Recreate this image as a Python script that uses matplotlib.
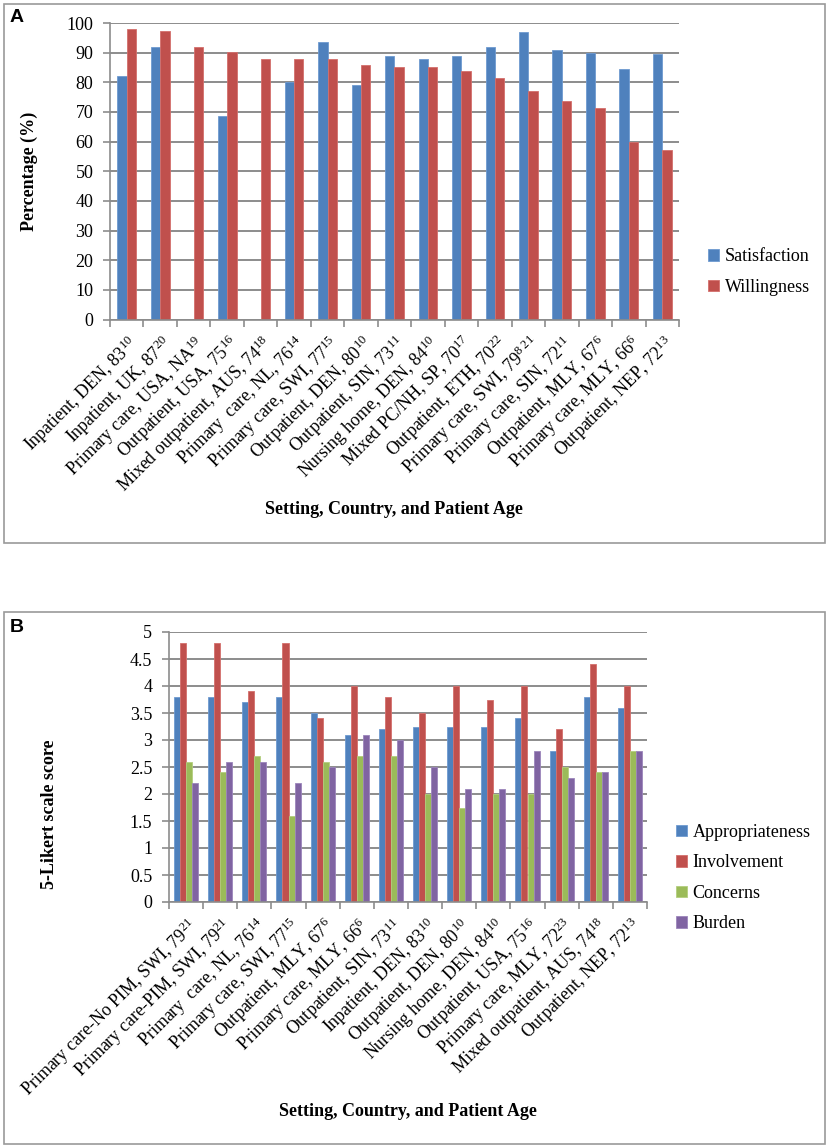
import numpy as np
import matplotlib
matplotlib.use("Agg")
import matplotlib.pyplot as plt
from matplotlib.patches import Rectangle

plt.rcParams['font.family'] = ['Liberation Serif', 'DejaVu Serif']
plt.rcParams['mathtext.fontset'] = 'custom'
plt.rcParams['mathtext.rm'] = 'Liberation Serif'
plt.rcParams['mathtext.it'] = 'Liberation Serif:italic'

# ---- panel A data ----
labels_a = ["Inpatient, DEN, 83$^{\\mathrm{10}}$", "Inpatient, UK, 87$^{\\mathrm{20}}$",
            "Primary care, USA, NA$^{\\mathrm{19}}$", "Outpatient, USA, 75$^{\\mathrm{16}}$",
            "Mixed outpatient, AUS, 74$^{\\mathrm{18}}$", "Primary  care, NL, 76$^{\\mathrm{14}}$",
            "Primary care, SWI, 77$^{\\mathrm{15}}$", "Outpatient, DEN, 80$^{\\mathrm{10}}$",
            "Outpatient, SIN, 73$^{\\mathrm{11}}$", "Nursing home, DEN, 84$^{\\mathrm{10}}$",
            "Mixed PC/NH, SP, 70$^{\\mathrm{17}}$", "Outpatient, ETH, 70$^{\\mathrm{22}}$",
            "Primary care, SWI, 79$^{\\mathrm{8\\ 21}}$", "Primary care, SIN, 72$^{\\mathrm{11}}$",
            "Outpatient, MLY, 67$^{\\mathrm{6}}$", "Primary care, MLY, 66$^{\\mathrm{6}}$",
            "Outpatient, NEP, 72$^{\\mathrm{13}}$"]
satisfaction = [82, 92, np.nan, 68.6, np.nan, 80, 93.7, 79, 89, 88, 89, 92, 96.9, 91, 89.9, 84.4, 89.5]
willingness = [98, 97.4, 92, 90.3, 88, 88, 88, 85.8, 85.3, 85, 83.7, 81.6, 76.9, 73.6, 71.5, 60, 57.3]

# ---- panel B data ----
labels_b = ["Primary care-No PIM, SWI, 79$^{\\mathrm{21}}$", "Primary care-PIM, SWI, 79$^{\\mathrm{21}}$",
            "Primary  care, NL, 76$^{\\mathrm{14}}$", "Primary care, SWI, 77$^{\\mathrm{15}}$",
            "Outpatient, MLY, 67$^{\\mathrm{6}}$", "Primary care, MLY, 66$^{\\mathrm{6}}$",
            "Outpatient, SIN, 73$^{\\mathrm{11}}$", "Inpatient, DEN, 83$^{\\mathrm{10}}$",
            "Outpatient, DEN, 80$^{\\mathrm{10}}$", "Nursing home, DEN, 84$^{\\mathrm{10}}$",
            "Outpatient, USA, 75$^{\\mathrm{16}}$", "Primary care, MLY, 72$^{\\mathrm{23}}$",
            "Mixed outpatient, AUS, 74$^{\\mathrm{18}}$", "Outpatient, NEP, 72$^{\\mathrm{13}}$"]
appropriateness = [3.8, 3.8, 3.7, 3.8, 3.5, 3.1, 3.2, 3.25, 3.25, 3.25, 3.4, 2.8, 3.8, 3.6]
involvement = [4.8, 4.8, 3.9, 4.8, 3.4, 4.0, 3.8, 3.5, 4.0, 3.75, 4.0, 3.2, 4.4, 4.0]
concerns = [2.6, 2.4, 2.7, 1.6, 2.6, 2.7, 2.7, 2.0, 1.75, 2.0, 2.0, 2.5, 2.4, 2.8]
burden = [2.2, 2.6, 2.6, 2.2, 2.5, 3.1, 3.0, 2.5, 2.1, 2.1, 2.8, 2.3, 2.4, 2.8]

BLUE, RED, GREEN, PURPLE = '#4F81BD', '#C0504D', '#9BBB59', '#8064A2'
GRID = '#8C8C8C'
LEG_FONT = {'family': 'Liberation Serif', 'size': 13}

W, H = 829, 1148
fig = plt.figure(figsize=(W / 100, H / 100), dpi=100)

# panel frames
for (x0, y0, x1, y1) in [(4, 4, 825, 543), (4, 612, 825, 1144)]:
    fig.patches.append(Rectangle((x0 / W, 1 - y1 / H), (x1 - x0) / W, (y1 - y0) / H,
                                 transform=fig.transFigure, fill=False,
                                 edgecolor='#9A9A9A', lw=1.2))


def style_axes(ax, n, labels, yticks, yfmt):
    ax.set_xlim(-0.5, n - 0.5)
    ax.set_ylim(yticks[0], yticks[-1])
    ax.set_yticks(yticks)
    ax.set_yticklabels([yfmt(v) for v in yticks], fontsize=13)
    ax.yaxis.grid(True, color=GRID, lw=1.4)
    ax.set_axisbelow(True)
    for s in ['top', 'right']:
        ax.spines[s].set_visible(False)
    for s in ['left', 'bottom']:
        ax.spines[s].set_color(GRID)
        ax.spines[s].set_linewidth(1.2)
    ax.set_xticks(np.arange(n + 1) - 0.5)
    ax.set_xticklabels([])
    ax.set_xticks(np.arange(n), minor=True)
    ax.set_xticklabels(labels, minor=True, rotation=45, ha='right',
                       rotation_mode='anchor', fontsize=13)
    ax.tick_params(axis='x', which='major', length=5, color=GRID, width=1.2)
    ax.tick_params(axis='x', which='minor', length=0, pad=9)
    ax.tick_params(axis='y', length=5, color=GRID, width=1.2, pad=7)


# ---- panel A ----
axa = fig.add_axes([110 / W, 1 - 319.5 / H, 569 / W, 296.5 / H])
xa = np.arange(len(labels_a))
bw = 0.28
axa.bar(xa - bw / 2, satisfaction, bw, color=BLUE, edgecolor='#6F9AD0', lw=0.6, label='Satisfaction')
axa.bar(xa + bw / 2, willingness, bw, color=RED, edgecolor='#D46F6C', lw=0.6, label='Willingness')
style_axes(axa, len(labels_a), labels_a, list(range(0, 101, 10)), lambda v: f"{v}")
axa.set_ylabel('Percentage (%)', fontsize=13, fontweight='bold')
axa.yaxis.set_label_coords(-0.127, 0.5)
axa.legend(loc='center left', bbox_to_anchor=(692 / W, 1 - 272 / H),
           bbox_transform=fig.transFigure, frameon=False, prop=LEG_FONT,
           handlelength=0.6, handleheight=0.6, handletextpad=0.3, labelspacing=0.75)
fig.text(394 / W, 1 - 510 / H, 'Setting, Country, and Patient Age', ha='center', va='center',
         fontsize=13, fontweight='bold')
fig.text(10 / W, 1 - 18 / H, 'A', fontsize=14, fontweight='bold', family='Liberation Sans',
         va='center')

# ---- panel B ----
axb = fig.add_axes([169 / W, 1 - 902 / H, 478 / W, 270 / H])
xb = np.arange(len(labels_b))
bw = 0.176
series_b = [(appropriateness, BLUE, '#6F9AD0', 'Appropriateness'),
            (involvement, RED, '#D46F6C', 'Involvement'),
            (concerns, GREEN, '#B3CE7E', 'Concerns'),
            (burden, PURPLE, '#9C85BB', 'Burden')]
for k, (vals, c, ec, name) in enumerate(series_b):
    axb.bar(xb + (k - 1.5) * bw, vals, bw, color=c, edgecolor=ec, lw=0.6, label=name)
yb = [i * 0.5 for i in range(11)]
style_axes(axb, len(labels_b), labels_b, yb, lambda v: f"{v:g}")
axb.set_ylabel('5-Likert scale score', fontsize=13, fontweight='bold')
axb.yaxis.set_label_coords(-0.232, 0.326)
axb.legend(loc='center left', bbox_to_anchor=(660 / W, 1 - 878 / H),
           bbox_transform=fig.transFigure, frameon=False, prop=LEG_FONT,
           handlelength=0.6, handleheight=0.6, handletextpad=0.3, labelspacing=0.75)
fig.text(408 / W, 1 - 1112 / H, 'Setting, Country, and Patient Age', ha='center', va='center',
         fontsize=13, fontweight='bold')
fig.text(10 / W, 1 - 627 / H, 'B', fontsize=14, fontweight='bold', family='Liberation Sans',
         va='center')

fig.savefig('out.png', dpi=100)
